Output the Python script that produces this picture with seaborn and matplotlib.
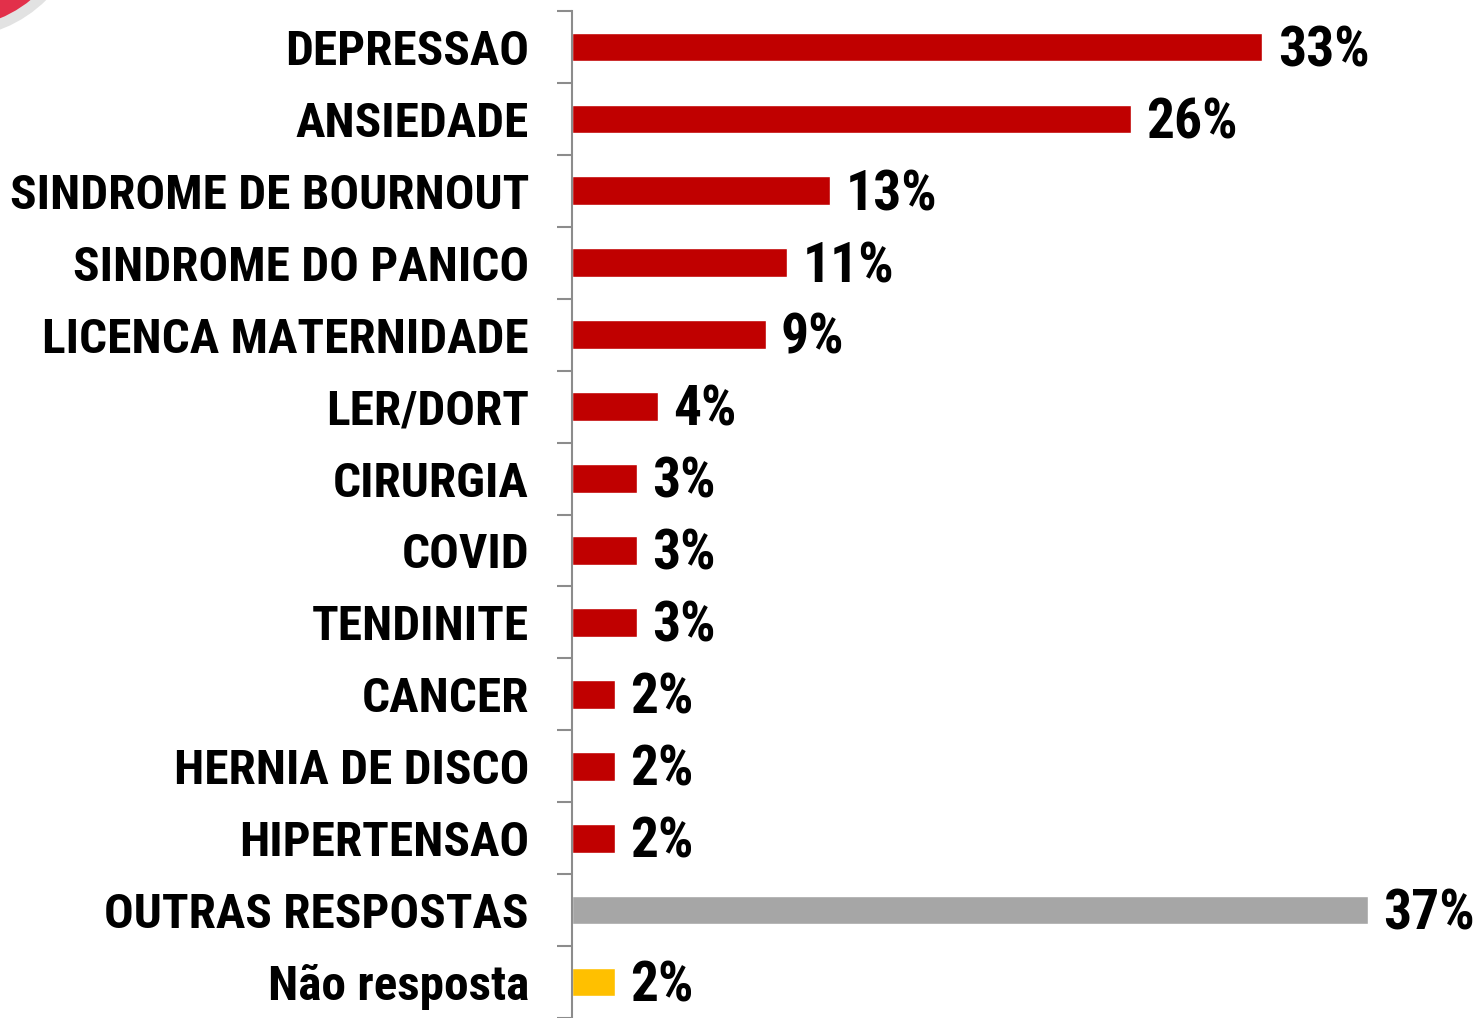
import matplotlib
matplotlib.use("Agg")
from matplotlib import pyplot as plt
from matplotlib.patches import Circle
import seaborn as sns

# data
categories = [
    "DEPRESSAO",
    "ANSIEDADE",
    "SINDROME DE BOURNOUT",
    "SINDROME DO PANICO",
    "LICENCA MATERNIDADE",
    "LER/DORT",
    "CIRURGIA",
    "COVID",
    "TENDINITE",
    "CANCER",
    "HERNIA DE DISCO",
    "HIPERTENSAO",
    "OUTRAS RESPOSTAS",
    "Não resposta",
]
# bar lengths as drawn (percent)
bar_values = [32.1, 26, 12, 10, 9, 4, 3, 3, 3, 2, 2, 2, 37, 2]
# printed data labels
value_labels = ["33%", "26%", "13%", "11%", "9%", "4%", "3%", "3%", "3%",
                "2%", "2%", "2%", "37%", "2%"]
bar_colors = ["#c00000"] * 12 + ["#a6a6a6", "#ffc000"]

sns.set_theme(style="white")
plt.rcParams["font.family"] = ["Roboto Condensed", "Archivo Narrow",
                               "Barlow Semi Condensed", "DejaVu Sans"]

DPI = 100
fig = plt.figure(figsize=(14.76, 10.18), dpi=DPI)
ax = fig.add_axes([572 / 1476, 0.0, 904 / 1476, 1007 / 1018])

sns.barplot(
    x=bar_values,
    y=categories,
    hue=categories,
    palette=bar_colors,
    legend=False,
    width=0.4,
    saturation=1,
    orient="h",
    ax=ax,
)

ax.set_xlim(0, 904 / 21.5)
ax.set_ylim(len(categories) - 0.5, -0.5)

# data labels
for i, (v, lab) in enumerate(zip(bar_values, value_labels)):
    ax.text(v + 0.72, i + 0.06, lab, va="center", ha="left",
            fontsize=40, fontweight="bold", color="black")

# axis styling
for side in ("top", "right", "bottom"):
    ax.spines[side].set_visible(False)
ax.spines["left"].set_color("#8c8c8c")
ax.spines["left"].set_linewidth(1.5)
ax.set_xticks([])
ax.set_yticks(range(len(categories)))
ax.set_yticklabels(categories, fontsize=35.5, fontweight="bold", color="black")
ax.tick_params(axis="y", which="major", length=0, pad=31)
ax.set_yticks([i - 0.5 for i in range(len(categories) + 1)], minor=True)
ax.tick_params(axis="y", which="minor", length=10.8, width=1.5,
               color="#8c8c8c", left=True)
ax.set_xlabel("")
ax.set_ylabel("")

# decorative corner circle (top-left)
h = 1018
shadow = Circle((-50 + 4, h + 100 - 7), 131, transform=None,
                facecolor="#d6d6d6", edgecolor="none", alpha=0.7, zorder=0)
blob = Circle((-50, h + 100), 128.5, transform=None,
              facecolor="#e2304a", edgecolor="none", zorder=1)
fig.patches.extend([shadow, blob])

fig.savefig("out.png", dpi=DPI)
